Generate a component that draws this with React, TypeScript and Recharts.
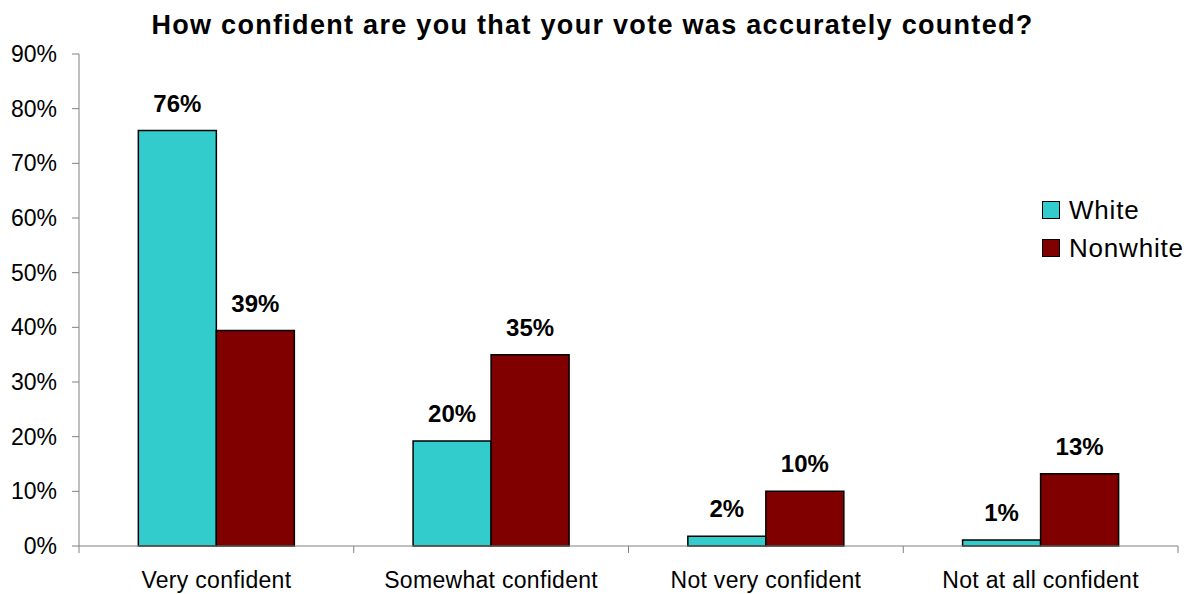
import React from 'react';
import { Bar, BarChart, LabelList, XAxis, YAxis } from 'recharts';

const categories = ['Very confident', 'Somewhat confident', 'Not very confident', 'Not at all confident'];
const whiteValues = [76, 19.2, 1.8, 1.1];
const nonwhiteValues = [39.4, 35, 10, 13.2];
const whiteLabels = ['76%', '20%', '2%', '1%'];
const nonwhiteLabels = ['39%', '35%', '10%', '13%'];
const yTicks = [0, 10, 20, 30, 40, 50, 60, 70, 80, 90];

const series = [
  { key: 'white', name: 'White', color: '#33CCCC' },
  { key: 'nonwhite', name: 'Nonwhite', color: '#800000' },
];

const data = categories.map((name, i) => ({
  name,
  white: whiteValues[i],
  nonwhite: nonwhiteValues[i],
  whiteLabel: whiteLabels[i],
  nonwhiteLabel: nonwhiteLabels[i],
}));

const FONT = '"Liberation Sans", Arial, sans-serif';
const W = 1195;
const H = 594;
const M = { top: 54, right: 17, bottom: 0, left: 0 };
const Y_WIDTH = 79;
const BAND = (W - Y_WIDTH - M.left - M.right) / categories.length;

const labelStyle = { fontFamily: FONT, fontSize: 24, fontWeight: 700, fill: '#000' };

// category label plus boundary tick marks (ticks sit between categories)
const CategoryTick = (props: any) => {
  const { x, y, payload, index } = props;
  const left = x - BAND / 2;
  const right = x + BAND / 2;
  return (
    <g>
      <line x1={left} y1={y} x2={left} y2={y + 7} stroke="#808080" />
      {index === categories.length - 1 && <line x1={right} y1={y} x2={right} y2={y + 7} stroke="#808080" />}
      <text x={x} y={y + 26} dy="0.71em" textAnchor="middle" fill="#000" fontSize={23} fontFamily={FONT} letterSpacing={0.3}>
        {payload.value}
      </text>
    </g>
  );
};

export default function App() {
  return (
    <div style={{ position: 'absolute', left: 0, top: 0, width: W, height: H, background: '#fff', fontFamily: FONT }}>
      <div
        style={{
          position: 'absolute',
          top: 10,
          left: 0,
          width: 1185,
          textAlign: 'center',
          fontSize: 27,
          letterSpacing: 1.3,
          fontWeight: 700,
          color: '#000',
          zIndex: 1,
        }}
      >
        How confident are you that your vote was accurately counted?
      </div>
      <div style={{ position: 'absolute', left: 1042, top: 191, zIndex: 1 }}>
        {series.map((s) => (
          <div key={s.key} style={{ display: 'flex', alignItems: 'center', height: 38, fontSize: 26, letterSpacing: 0.8 }}>
            <span
              style={{
                display: 'inline-block',
                width: 16,
                height: 16,
                background: s.color,
                border: '1.5px solid #000',
                marginRight: 9,
              }}
            />
            <span style={{ color: '#000' }}>{s.name}</span>
          </div>
        ))}
      </div>
      <BarChart width={W} height={H} data={data} margin={M} barCategoryGap="21.6%" barGap={0}>
        <XAxis
          dataKey="name"
          axisLine={{ stroke: '#808080' }}
          tickLine={false}
          tickSize={0}
          tickMargin={0}
          height={48}
          interval={0}
          tick={<CategoryTick />}
        />
        <YAxis
          domain={[0, 90]}
          ticks={yTicks}
          tickFormatter={(v) => `${v}%`}
          axisLine={{ stroke: '#808080' }}
          tickLine={{ stroke: '#808080' }}
          tickSize={7}
          tickMargin={15}
          width={Y_WIDTH}
          interval={0}
          tick={{ fill: '#000', fontSize: 23, fontFamily: FONT }}
        />
        {series.map((s) => (
          <Bar
            key={s.key}
            dataKey={s.key}
            name={s.name}
            fill={s.color}
            stroke="#000"
            strokeWidth={1.5}
            isAnimationActive={false}
          >
            <LabelList dataKey={`${s.key}Label`} position="top" offset={19} style={labelStyle} />
          </Bar>
        ))}
      </BarChart>
    </div>
  );
}
